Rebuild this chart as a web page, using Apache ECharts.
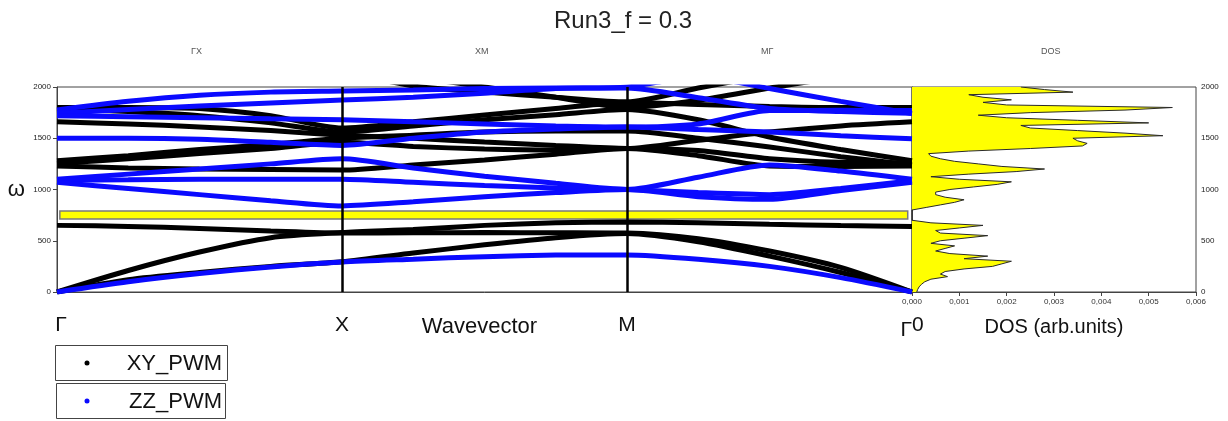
<!DOCTYPE html>
<html>
<head>
<meta charset="utf-8">
<script src="https://cdn.jsdelivr.net/npm/echarts@6/dist/echarts.min.js"></script>
<style>
  html, body { margin: 0; padding: 0; background: #ffffff; }
  #chart { width: 1228px; height: 421px; }
</style>
</head>
<body>
<div id="chart"></div>
<script>
// Wavevector path Γ(0) → X(1) → M(2) → Γ(3), sampled every quarter segment
const kPoints = [0, 0.25, 0.5, 0.75, 1, 1.25, 1.5, 1.75, 2, 2.25, 2.5, 2.75, 3];
const kLabels = ['Γ', 'X', 'M', 'Γ0'];
const segmentTitles = ['ΓX', 'XM', 'MΓ', 'DOS'];

// XY_PWM branches (ω)
const xyBands = [
  [1800, 1800, 1790, 1720, 1600, 1660, 1727, 1790, 1850, 1830, 1810, 1800, 1800],
  [1790, 1760, 1720, 1650, 1560, 1620, 1680, 1730, 1780, 1680, 1512, 1390, 1280],
  [1660, 1640, 1610, 1575, 1530, 1500, 1463, 1430, 1400, 1480, 1560, 1620, 1660],
  [1280, 1330, 1390, 1440, 1500, 1530, 1560, 1570, 1570, 1500, 1415, 1320, 1240],
  [1255, 1300, 1350, 1400, 1460, 1420, 1395, 1385, 1400, 1330, 1230, 1225, 1230],
  [1230, 1210, 1200, 1195, 1190, 1240, 1288, 1345, 1400, 1380, 1300, 1265, 1260],
  [2400, 2350, 2300, 2250, 2150, 2010, 1950, 1900, 1855, 1990, 2120, 2250, 2380],
  [2500, 2450, 2400, 2300, 2200, 2100, 2000, 1900, 1800, 1870, 1990, 2100, 2200],
  [650, 640, 620, 595, 575, 578, 580, 578, 575, 520, 400, 240, 0],
  [0, 210, 390, 530, 580, 610, 650, 675, 683, 675, 660, 648, 640],
  [0, 120, 190, 250, 295, 380, 460, 530, 570, 490, 350, 190, 0]
];

// ZZ_PWM branches (ω)
const zzBands = [
  [1775, 1860, 1920, 1950, 1960, 1970, 1985, 1990, 1990, 1895, 1790, 1760, 1745],
  [1745, 1780, 1815, 1845, 1873, 1900, 1940, 1985, 2000, 2100, 1985, 1860, 1740],
  [1720, 1710, 1700, 1690, 1680, 1660, 1640, 1620, 1610, 1640, 1770, 1772, 1770],
  [1500, 1500, 1490, 1460, 1430, 1500, 1560, 1590, 1610, 1585, 1560, 1525, 1495],
  [1100, 1150, 1200, 1250, 1300, 1210, 1130, 1060, 1000, 1120, 1240, 1180, 1100],
  [1090, 1095, 1100, 1100, 1100, 1070, 1040, 1015, 1000, 970, 950, 1010, 1085],
  [1070, 1010, 950, 890, 840, 880, 930, 970, 1000, 930, 905, 990, 1070],
  [0, 100, 180, 245, 293, 320, 345, 360, 362, 320, 250, 140, 0]
];

// Band gap shown as a highlighted strip (ω range)
const gapRange = [712, 790];

// Density of states, one value per 25 units of ω from 0 to 2000
const dosStep = 25;
const dosValues = [
  0.0001, 0.00012, 0.00015, 0.0002, 0.00027, 0.0004, 0.00075, 0.0006, 0.0007, 0.0011,
  0.0017, 0.0019, 0.0021, 0.0011, 0.0016, 0.0008, 0.0005, 0.0007, 0.0009, 0.0004,
  0.0006, 0.0011, 0.0016, 0.0006, 0.0005, 0.0010, 0.0015, 0.0004, 0, 0,
  0, 0, 0, 0.0003, 0.0006, 0.0009, 0.0011, 0.0007, 0.0005, 0.0005,
  0.0008, 0.0013, 0.0018, 0.0021, 0.0010, 0.0004, 0.0012, 0.0022, 0.0028, 0.0019,
  0.0014, 0.0009, 0.0006, 0.0004, 0.00035, 0.0012, 0.0025, 0.0036, 0.0037, 0.0035,
  0.0034, 0.0053, 0.0045, 0.0035, 0.0025, 0.0023, 0.0050, 0.0035, 0.0020, 0.0014,
  0.0025, 0.0045, 0.0055, 0.0020, 0.0015, 0.0021, 0.0015, 0.0012, 0.0034, 0.0028,
  0.0023
];
const dosOmega = dosValues.map((_, i) => String(i * dosStep));

const FONT = '"Liberation Sans", Arial, sans-serif';
const xyColor = '#000000';
const zzColor = '#0a0aff';

const chart = echarts.init(document.getElementById('chart'), null, { renderer: 'canvas' });

function bandSeries(band, color, name) {
  return {
    type: 'line',
    name: name,
    xAxisIndex: 0,
    yAxisIndex: 0,
    data: kPoints.map((k, i) => [k, band[i]]),
    showSymbol: false,
    smooth: 0.25,
    clip: true,
    silent: true,
    animation: false,
    lineStyle: { color: color, width: 5 },
    itemStyle: { color: color },
    z: 3
  };
}

const series = [];
xyBands.forEach(b => series.push(bandSeries(b, xyColor, 'XY_PWM')));
zzBands.forEach(b => series.push(bandSeries(b, zzColor, 'ZZ_PWM')));

// High-symmetry separators and the gap strip ride on the first branch
series[0].markLine = {
  silent: true,
  symbol: 'none',
  label: { show: false },
  lineStyle: { color: '#000', width: 2.5, type: 'solid' },
  data: [{ xAxis: 1 }, { xAxis: 2 }],
  z: 5
};
series[0].markArea = {
  silent: true,
  itemStyle: { color: '#ffff00', borderColor: '#7a7a7a', borderWidth: 1.5 },
  data: [[{ xAxis: 0.01, yAxis: gapRange[0] }, { xAxis: 2.985, yAxis: gapRange[1] }]]
};

series.push({
  type: 'line',
  name: 'DOS',
  xAxisIndex: 1,
  yAxisIndex: 1,
  data: dosValues,
  showSymbol: false,
  silent: true,
  animation: false,
  lineStyle: { color: '#2a2a2a', width: 1 },
  areaStyle: { color: '#ffff00', opacity: 1 },
  z: 2
});

const titleStyle = { fontFamily: FONT, fontSize: 9, fill: '#555' };

const option = {
  animation: false,
  backgroundColor: '#ffffff',
  title: {
    text: 'Run3_f = 0.3',
    left: 549,
    top: 4,
    textStyle: { fontFamily: FONT, fontSize: 24, fontWeight: 'normal', color: '#222' }
  },
  grid: [
    { left: 57, top: 87, width: 855, height: 205, show: true, borderColor: '#444', borderWidth: 1, backgroundColor: 'transparent' },
    { left: 912, top: 87, width: 284, height: 205, show: true, borderColor: '#444', borderWidth: 1, backgroundColor: 'transparent' }
  ],
  xAxis: [
    {
      type: 'value', gridIndex: 0, min: 0, max: 3, interval: 1,
      axisLine: { show: true, lineStyle: { color: '#444', width: 1 } },
      axisTick: { show: false },
      splitLine: { show: false },
      axisLabel: {
        margin: 23,
        fontFamily: FONT, fontSize: 21, color: '#111',
        formatter: v => (v === 3 ? '{a|Γ}{b|0}' : (v === 0 ? '{p|Γ}' : kLabels[v])),
        rich: {
          a: { fontFamily: FONT, fontSize: 21, color: '#111' },
          b: { fontFamily: FONT, fontSize: 21, color: '#111', padding: [0, 0, 10, 0] },
          p: { fontFamily: FONT, fontSize: 21, color: '#111', padding: [0, 0, 0, 8] }
        }
      },
      name: 'Wavevector',
      nameLocation: 'middle',
      nameGap: 24,
      nameMoveOverlap: false,
      nameTextStyle: { fontFamily: FONT, fontSize: 22, color: '#111', padding: [0, 10, 0, 0] }
    },
    {
      type: 'value', gridIndex: 1, min: 0, max: 0.006, interval: 0.001,
      axisLine: { show: true, lineStyle: { color: '#444', width: 1 } },
      axisTick: { show: true, length: 4, lineStyle: { color: '#444' } },
      splitLine: { show: false },
      axisLabel: {
        margin: 6, fontFamily: FONT, fontSize: 8, color: '#333',
        formatter: v => v.toFixed(3).replace('.', ',')
      },
      name: 'DOS (arb.units)',
      nameLocation: 'middle',
      nameGap: 25,
      nameMoveOverlap: false,
      nameTextStyle: { fontFamily: FONT, fontSize: 20, color: '#111' }
    }
  ],
  yAxis: [
    {
      type: 'value', gridIndex: 0, min: 0, max: 2000, interval: 500,
      axisLine: { show: true, lineStyle: { color: '#444', width: 1 } },
      axisTick: { show: true, length: 4, lineStyle: { color: '#444' } },
      splitLine: { show: false },
      axisLabel: { margin: 6, fontFamily: FONT, fontSize: 8, color: '#222', formatter: v => String(v) },
      name: 'ω',
      nameLocation: 'middle',
      nameRotate: 0,
      nameGap: 32,
      nameMoveOverlap: false,
      nameTextStyle: { fontFamily: FONT, fontSize: 22, color: '#111' }
    },
    {
      type: 'category', gridIndex: 1, data: dosOmega, boundaryGap: false,
      position: 'right',
      axisLine: { show: true, lineStyle: { color: '#444', width: 1 } },
      axisTick: { show: true, length: 4, interval: (i) => i % 20 === 0, lineStyle: { color: '#444' } },
      splitLine: { show: false },
      axisLabel: {
        margin: 5, fontFamily: FONT, fontSize: 8, color: '#222',
        interval: (i) => i % 20 === 0
      }
    }
  ],
  graphic: [
    { type: 'text', left: 191, top: 47, style: Object.assign({ text: segmentTitles[0] }, titleStyle), silent: true },
    { type: 'text', left: 475, top: 47, style: Object.assign({ text: segmentTitles[1] }, titleStyle), silent: true },
    { type: 'text', left: 761, top: 47, style: Object.assign({ text: segmentTitles[2] }, titleStyle), silent: true },
    { type: 'text', left: 1041, top: 47, style: Object.assign({ text: segmentTitles[3], letterSpacing: 1.5 }, titleStyle), silent: true },
    // legend entries
    { type: 'rect', shape: { x: 55.5, y: 345.5, width: 172, height: 35 }, style: { fill: '#fff', stroke: '#444', lineWidth: 1 }, silent: true },
    { type: 'circle', shape: { cx: 87, cy: 363, r: 2.5 }, style: { fill: xyColor }, silent: true },
    { type: 'text', x: 222, y: 364, style: { text: 'XY_PWM', fontFamily: FONT, fontSize: 22, fill: '#111', align: 'right', verticalAlign: 'middle' }, silent: true },
    { type: 'rect', shape: { x: 56.5, y: 383.5, width: 169, height: 35 }, style: { fill: '#fff', stroke: '#444', lineWidth: 1 }, silent: true },
    { type: 'circle', shape: { cx: 87, cy: 401, r: 2.5 }, style: { fill: zzColor }, silent: true },
    { type: 'text', x: 222, y: 402, style: { text: 'ZZ_PWM', fontFamily: FONT, fontSize: 22, fill: '#111', align: 'right', verticalAlign: 'middle' }, silent: true }
  ],
  series: series
};

chart.setOption(option);
</script>
</body>
</html>
